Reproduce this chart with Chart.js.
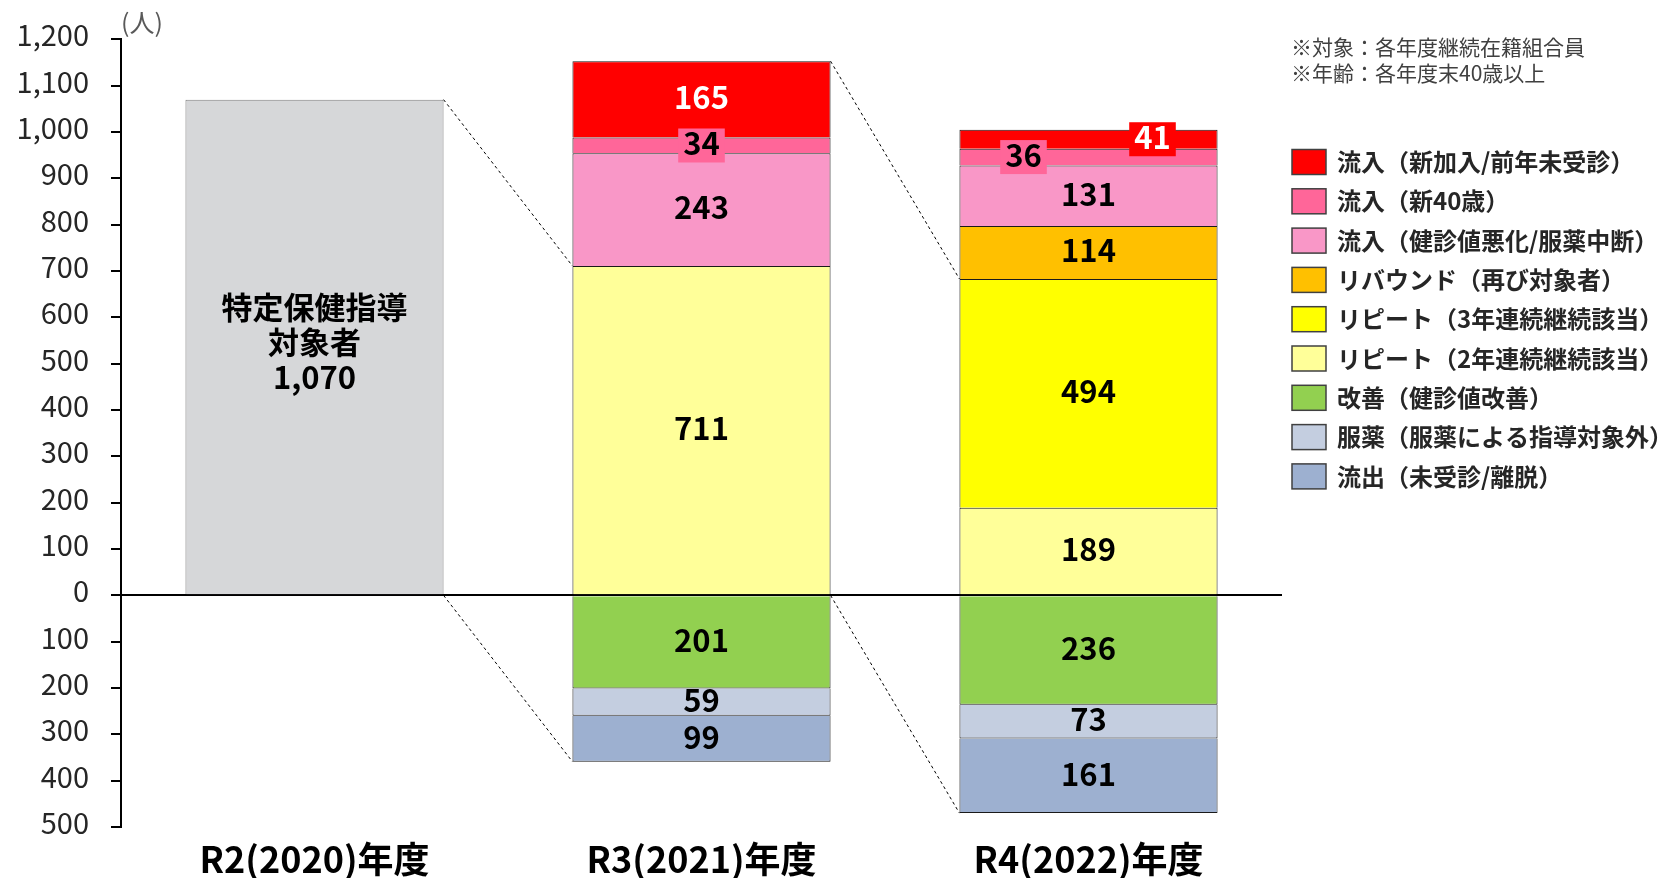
<!DOCTYPE html>
<html lang="ja">
<head>
<meta charset="utf-8">
<script src="https://cdn.jsdelivr.net/npm/chart.js@4.4.1/dist/chart.umd.min.js"></script>
<style>
  html, body { margin: 0; padding: 0; background: #fff; }
</style>
</head>
<body>
<canvas id="chart" width="1661" height="878"></canvas>
<script>
const categories = ['R2(2020)年度', 'R3(2021)年度', 'R4(2022)年度'];

// positive stack, bottom to top
const target      = [1070, null, null];
const repeat2     = [null, 711, 189];
const repeat3     = [null, null, 494];
const rebound     = [null, null, 114];
const inflowWorse = [null, 243, 131];
const inflow40    = [null, 34, 36];
const inflowNew   = [null, 165, 41];
// negative stack, from zero downwards
const improved    = [null, -201, -236];
const medication  = [null, -59, -73];
const outflow     = [null, -99, -161];

const tickValues = [-500, -400, -300, -200, -100, 0, 100, 200, 300, 400, 500, 600, 700, 800, 900, 1000, 1100, 1200];
const targetText = ['特定保健指導', '対象者', '1,070'];
const notes = ['※対象：各年度継続在籍組合員', '※年齢：各年度末40歳以上'];

const FONT = "'Noto Sans CJK JP', 'Noto Sans', sans-serif";

function ds(key, label, data, color, border) {
  return {
    key: key, label: label, data: data,
    backgroundColor: color,
    borderColor: border || '#1a1a1a',
    borderWidth: 1,
    barPercentage: 0.667,
    categoryPercentage: 1
  };
}

const datasets = [
  ds('target', '特定保健指導対象者', target, '#D6D7D9', '#7F7F7F'),
  ds('repeat2', 'リピート（2年連続継続該当）', repeat2, '#FFFF99'),
  ds('repeat3', 'リピート（3年連続継続該当）', repeat3, '#FFFF00'),
  ds('rebound', 'リバウンド（再び対象者）', rebound, '#FFC000'),
  ds('inflowWorse', '流入（健診値悪化/服薬中断）', inflowWorse, '#F997C7'),
  ds('inflow40', '流入（新40歳）', inflow40, '#FF6699'),
  ds('inflowNew', '流入（新加入/前年未受診）', inflowNew, '#FF0000'),
  ds('improved', '改善（健診値改善）', improved, '#92D050'),
  ds('medication', '服薬（服薬による指導対象外）', medication, '#C4CEE0'),
  ds('outflow', '流出（未受診/離脱）', outflow, '#9DB0D0')
];

const legendOrder = ['inflowNew', 'inflow40', 'inflowWorse', 'rebound', 'repeat3', 'repeat2', 'improved', 'medication', 'outflow'];

// small segments get a label box, some shifted sideways
const labelBoxes = {
  inflow40: { 1: 0, 2: -65 },
  inflowNew: { 2: 64 }
};
const whiteText = ['inflowNew'];

function sumAt(arrs, i) {
  return arrs.reduce((s, a) => s + (a[i] || 0), 0);
}

const extras = {
  id: 'extras',
  afterDatasetsDraw(chart) {
    const ctx = chart.ctx;
    const y = chart.scales.y;
    const x = chart.scales.x;
    const barW = chart.getDatasetMeta(0).data[0].width;

    // dashed connectors between years
    const positives = [target, repeat2, repeat3, rebound, inflowWorse, inflow40, inflowNew];
    const negatives = [improved, medication, outflow];
    ctx.save();
    ctx.strokeStyle = '#000';
    ctx.lineWidth = 1;
    ctx.setLineDash([3, 3]);
    for (let i = 0; i < categories.length - 1; i++) {
      const x1 = x.getPixelForValue(i) + barW / 2;
      const x2 = x.getPixelForValue(i + 1) - barW / 2;
      const top1 = sumAt(positives, i);
      const rep2 = sumAt([repeat2, repeat3], i + 1);
      const bot2 = sumAt(negatives, i + 1);
      ctx.beginPath();
      ctx.moveTo(x1, y.getPixelForValue(top1));
      ctx.lineTo(x2, y.getPixelForValue(rep2));
      ctx.moveTo(x1, y.getPixelForValue(0));
      ctx.lineTo(x2, y.getPixelForValue(bot2));
      ctx.stroke();
    }
    ctx.restore();

    // segment values
    ctx.save();
    ctx.textAlign = 'center';
    ctx.textBaseline = 'middle';
    ctx.font = 'bold 31px ' + FONT;
    chart.data.datasets.forEach((d, di) => {
      const meta = chart.getDatasetMeta(di);
      meta.data.forEach((bar, i) => {
        const v = d.data[i];
        if (v == null) return;
        const cy = (bar.y + bar.base) / 2;
        if (d.key === 'target') {
          targetText.forEach((t, k) => {
            ctx.fillStyle = '#000';
            ctx.fillText(t, bar.x, cy - 5 + (k - 1) * 35);
          });
          return;
        }
        let cx = bar.x;
        const txt = Math.abs(v).toLocaleString('en-US');
        const box = labelBoxes[d.key] && labelBoxes[d.key][i];
        if (box !== undefined) {
          cx += box;
          const w = ctx.measureText(txt).width + 10;
          ctx.fillStyle = d.backgroundColor;
          ctx.fillRect(cx - w / 2, cy - 17, w, 34);
        }
        ctx.fillStyle = whiteText.includes(d.key) ? '#fff' : '#000';
        ctx.fillText(txt, cx, cy - 2);
      });
    });
    ctx.restore();
  },
  afterDraw(chart) {
    const ctx = chart.ctx;
    ctx.save();
    // unit
    ctx.fillStyle = '#595959';
    ctx.font = '25px ' + FONT;
    ctx.textBaseline = 'middle';
    ctx.textAlign = 'left';
    ctx.fillText('(人)', 121, 22);

    // notes
    ctx.fillStyle = '#404040';
    ctx.font = '21px ' + FONT;
    notes.forEach((n, k) => ctx.fillText(n, 1291, 47 + k * 26));

    // legend
    ctx.font = 'bold 24px ' + FONT;
    legendOrder.forEach((key, k) => {
      const d = chart.data.datasets.find(s => s.key === key);
      const ly = 162 + k * 39.3;
      ctx.fillStyle = d.backgroundColor;
      ctx.fillRect(1292, ly - 12.5, 34, 25);
      ctx.strokeStyle = '#404040';
      ctx.lineWidth = 1.5;
      ctx.strokeRect(1292, ly - 12.5, 34, 25);
      ctx.fillStyle = '#262626';
      ctx.fillText(d.label, 1337, ly);
    });
    ctx.restore();
  }
};

new Chart(document.getElementById('chart'), {
  type: 'bar',
  data: { labels: categories, datasets: datasets },
  options: {
    responsive: false,
    animation: false,
    layout: { padding: { top: 37, right: 379, left: 0, bottom: 0 } },
    plugins: {
      legend: { display: false },
      tooltip: { enabled: false }
    },
    scales: {
      x: {
        stacked: true,
        afterFit: s => { s.height = 51; },
        grid: { display: false },
        border: { display: false },
        ticks: {
          padding: 6,
          color: '#000',
          font: { size: 36, weight: 'bold', family: FONT, lineHeight: 1 }
        }
      },
      y: {
        stacked: true,
        min: -500,
        max: 1200,
        afterBuildTicks: s => { s.ticks = tickValues.map(v => ({ value: v })); },
        afterFit: s => { s.width = 121; },
        border: { display: true, color: '#000', width: 2 },
        grid: {
          drawOnChartArea: true,
          color: c => (c.tick && c.tick.value === 0) ? '#000' : 'rgba(0,0,0,0)',
          lineWidth: 2,
          tickColor: '#000',
          tickWidth: 2,
          tickLength: 10
        },
        ticks: {
          padding: 22,
          labelOffset: -4,
          color: '#262626',
          font: { size: 29, family: FONT },
          callback: v => Math.abs(v).toLocaleString('en-US')
        }
      }
    }
  },
  plugins: [extras]
});
</script>
</body>
</html>
